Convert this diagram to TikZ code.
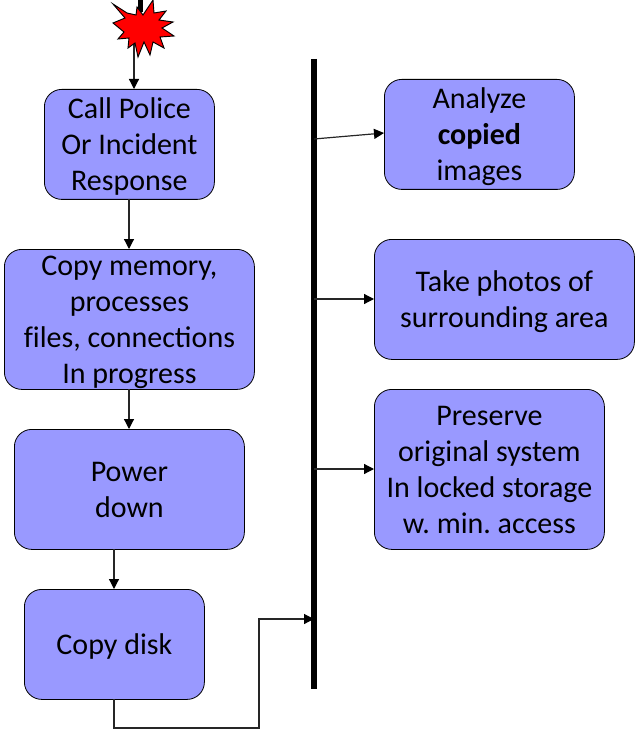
\documentclass[tikz,border=0pt]{standalone}
\usepackage{fontspec}
\setmainfont{Carlito}
\usetikzlibrary{arrows.meta,positioning}
\frenchspacing

\begin{document}
\begin{tikzpicture}[x=0.75pt,y=-0.75pt,
  every node/.style={font=\fontsize{22.5}{27}\selectfont},
  box/.style={draw=black,line width=0.6pt,fill=boxblue,rounded corners=13pt,align=center,inner sep=0pt,anchor=north west,text depth=0pt},
  link/.style={draw=black!85,line width=0.9pt,-{Triangle[length=7.5pt,width=7.5pt,color=black]}}]
\definecolor{boxblue}{RGB}{153,153,255}
\useasboundingbox (0,0) rectangle (639,734);
\node[box,minimum width=127.5pt,minimum height=82.5pt] (police) at (44,89) {Call Police\\Or Incident\\Response};
\node[box,minimum width=187.5pt,minimum height=105pt] (memory) at (4,249) {Copy memory,\\processes\\f\kern0pt iles, connections\\In progress};
\node[box,minimum width=172.5pt,minimum height=90pt] (power) at (14,429) {Power\\down};
\node[box,minimum width=135pt,minimum height=82.5pt] (disk) at (24,589) {Copy disk};
\node[box,minimum width=142.5pt,minimum height=82.5pt] (analyze) at (384,79) {Analyze\\\textbf{copied}\\images};
\node[box,minimum width=195pt,minimum height=90pt] (photos) at (374,239) {Take photos of\\surrounding area};
\node[box,minimum width=172.5pt,minimum height=120pt] (preserve) at (374,389) {Preserve\\original system\\In locked storage\\w. min. access};
% the bar
\coordinate (bartop) at (314,59);
\coordinate (barbot) at (314,689);
\draw[line width=4.5pt] (bartop) -- (barbot);
% burst
\coordinate (stub) at (140.5,0);
\coordinate (burst) at (134,30);
\draw[line width=4pt] (stub) -- ++(0,12);
\draw[link] (burst) -- (police.north -| burst);
\fill[red,draw=black,line width=0.7pt] (113,4) -- (127,13) -- (136,15) -- (137,7) -- (143,15) -- (153,0) -- (154,13) -- (166,11) -- (159,20) -- (173,22) -- (162,28) -- (174,36) -- (160,37) -- (164,48) -- (153,42) -- (150,55) -- (144,42) -- (138,57) -- (135,43) -- (128,48) -- (129,38) -- (118,39) -- (124,32) -- (113,23) -- (125,18) -- cycle;
\coordinate (a) at (129,199);
\draw[link] (a) -- (memory.north -| a);
\coordinate (b) at (129,389);
\draw[link] (b) -- (power.north -| b);
\coordinate (c) at (114,549);
\draw[link] (c) -- (disk.north -| c);
\coordinate (d) at (114,699);
\coordinate (e) at (314,619);
\draw[link] (d) -- (114,728) -- (259,728) -- (259,619) -- (e);
\coordinate (f) at (314,139);
\draw[link] (f) -- (analyze.west |- 133,133);
\coordinate (g) at (314,299);
\draw[link] (g) -- (photos.west |- g);
\coordinate (h) at (314,469);
\draw[link] (h) -- (preserve.west |- h);
\end{tikzpicture}
\end{document}
